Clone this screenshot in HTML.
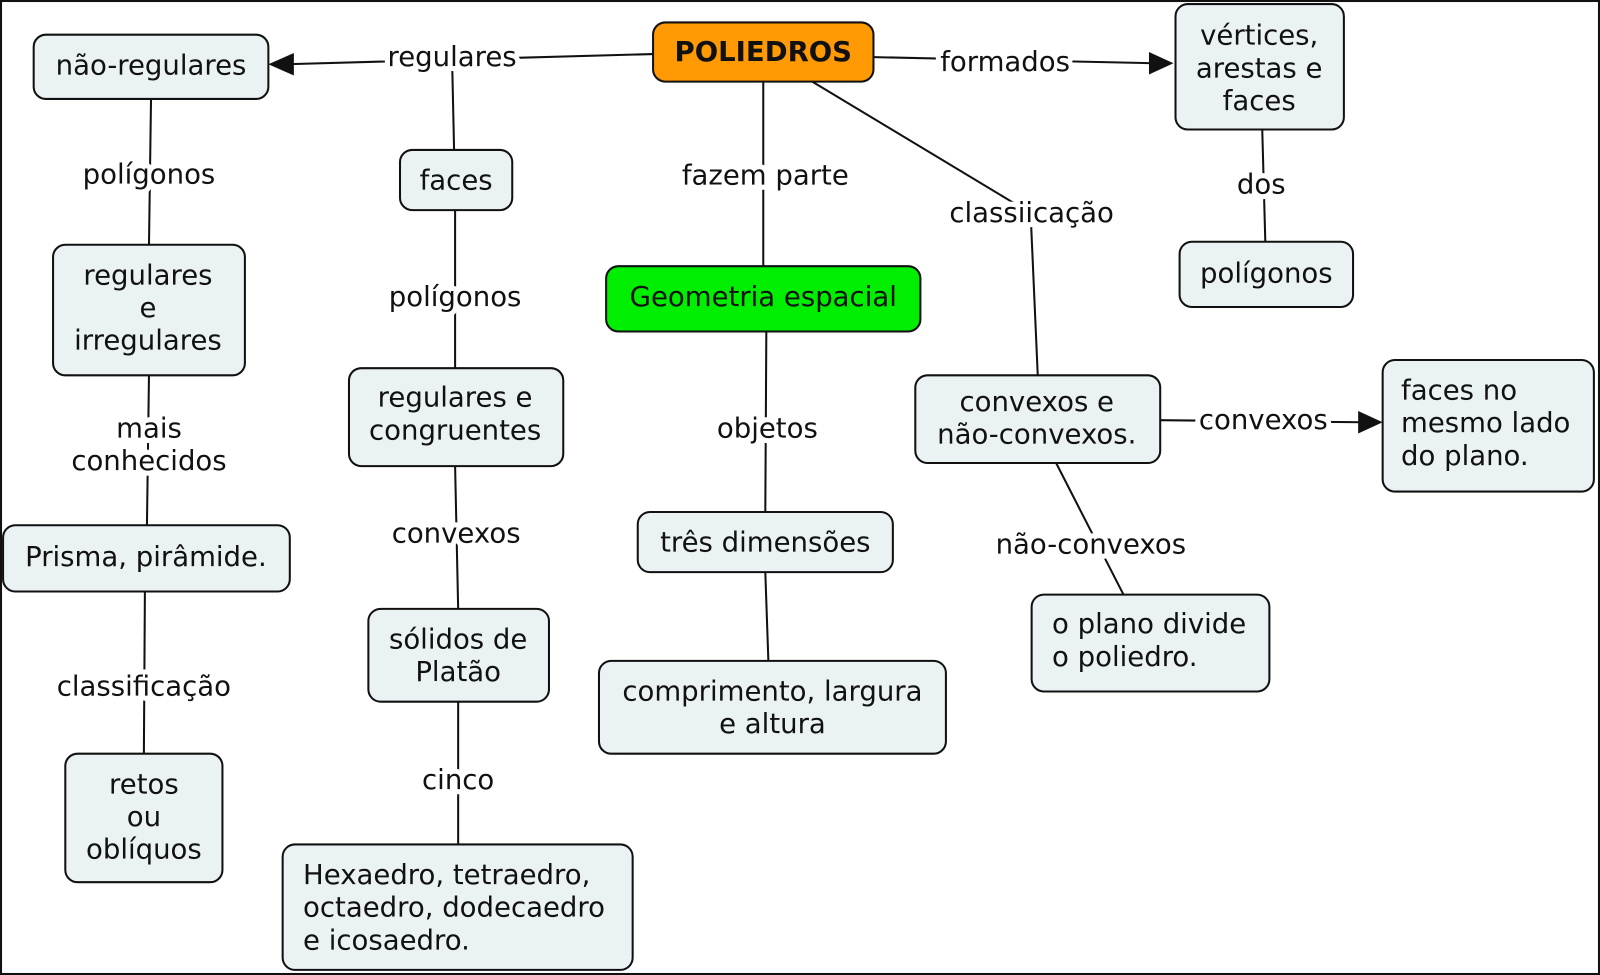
<!DOCTYPE html>
<html><head><meta charset="utf-8"><style>
html,body{margin:0;padding:0;background:#fff;}
svg{display:block;}
text{font-family:"DejaVu Sans","Liberation Sans",sans-serif;font-size:27px;fill:#111;}
.n rect{fill:#ebf2f4;stroke:#111;stroke-width:2;}
.l{stroke:#fff;stroke-width:10;paint-order:stroke;stroke-linejoin:round;}
line{stroke:#111;stroke-width:2;}
</style></head><body>
<svg width="1600" height="975" viewBox="0 0 1568 956" preserveAspectRatio="none" xmlns="http://www.w3.org/2000/svg">
<rect x="1" y="1" width="1566" height="954" fill="#fff" stroke="#111" stroke-width="2"/>
<!-- lines -->
<line x1="640" y1="53" x2="280" y2="63"/>
<polygon points="263,63 288,52 288,74" fill="#111"/>
<line x1="443" y1="56" x2="445" y2="147"/>
<line x1="856" y1="56" x2="1130" y2="62"/>
<polygon points="1150,62 1126,51 1126,73" fill="#111"/>
<line x1="748" y1="80" x2="748" y2="261"/>
<line x1="796" y1="80" x2="1010" y2="209"/>
<line x1="1010" y1="209" x2="1017" y2="368"/>
<line x1="1237" y1="127" x2="1240" y2="237"/>
<line x1="148" y1="97" x2="146" y2="240"/>
<line x1="146" y1="368" x2="144" y2="515"/>
<line x1="142" y1="580" x2="141" y2="739"/>
<line x1="446" y1="206" x2="446" y2="361"/>
<line x1="446" y1="457" x2="449" y2="597"/>
<line x1="449" y1="688" x2="449" y2="828"/>
<line x1="751" y1="325" x2="750" y2="502"/>
<line x1="750" y1="561" x2="753" y2="648"/>
<line x1="1137" y1="412" x2="1335" y2="414"/>
<polygon points="1355,414 1331,403 1331,425" fill="#111"/>
<line x1="1035" y1="454" x2="1101" y2="583"/>
<!-- link labels -->
<g text-anchor="middle" dominant-baseline="central">
<text class="l" x="443" y="56">regulares</text>
<text class="l" x="985" y="61">formados</text>
<text class="l" x="750" y="172">fazem parte</text>
<text class="l" x="1011" y="209">classiicação</text>
<text class="l" x="1236" y="181">dos</text>
<text class="l" x="146" y="171">polígonos</text>
<text class="l" x="146" y="420">mais</text>
<text class="l" x="146" y="452">conhecidos</text>
<text class="l" x="141" y="673">classificação</text>
<text class="l" x="446" y="291">polígonos</text>
<text class="l" x="447" y="523">convexos</text>
<text class="l" x="449" y="765">cinco</text>
<text class="l" x="752" y="420">objetos</text>
<text class="l" x="1238" y="412">convexos</text>
<text class="l" x="1069" y="534">não-convexos</text>
</g>
<!-- nodes -->
<g class="n" text-anchor="middle" dominant-baseline="central">
<rect x="640" y="22" width="216" height="58" rx="12" style="fill:#ff9a05"/>
<text x="748" y="51" font-weight="bold">POLIEDROS</text>
<rect x="33" y="34" width="230" height="63" rx="12"/>
<text x="148" y="64">não-regulares</text>
<rect x="1152" y="4" width="165" height="123" rx="12"/>
<text x="1234" y="35">vértices,</text><text x="1234" y="67">arestas e</text><text x="1234" y="99">faces</text>
<rect x="392" y="147" width="110" height="59" rx="12"/>
<text x="447" y="177">faces</text>
<rect x="594" y="261" width="308" height="64" rx="12" style="fill:#00ee00"/>
<text x="748" y="291">Geometria espacial</text>
<rect x="1156" y="237" width="170" height="64" rx="12"/>
<text x="1241" y="268">polígonos</text>
<rect x="52" y="240" width="188" height="128" rx="12"/>
<text x="145" y="270">regulares</text><text x="145" y="302">e</text><text x="145" y="334">irregulares</text>
<rect x="342" y="361" width="210" height="96" rx="12"/>
<text x="446" y="390">regulares e</text><text x="446" y="422">congruentes</text>
<rect x="897" y="368" width="240" height="86" rx="12"/>
<text x="1016" y="394">convexos e</text><text x="1016" y="426">não-convexos.</text>
<rect x="1355" y="353" width="207" height="129" rx="12"/>
<rect x="625" y="502" width="250" height="59" rx="12"/>
<text x="750" y="532">três dimensões</text>
<rect x="3" y="515" width="281" height="65" rx="12"/>
<text x="143" y="546">Prisma, pirâmide.</text>
<rect x="361" y="597" width="177" height="91" rx="12"/>
<text x="449" y="627">sólidos de</text><text x="449" y="659">Platão</text>
<rect x="1011" y="583" width="233" height="95" rx="12"/>
<rect x="587" y="648" width="340" height="91" rx="12"/>
<text x="757" y="678">comprimento, largura</text><text x="757" y="710">e altura</text>
<rect x="64" y="739" width="154" height="126" rx="12"/>
<text x="141" y="769">retos</text><text x="141" y="801">ou</text><text x="141" y="833">oblíquos</text>
<rect x="277" y="828" width="343" height="123" rx="12"/>
</g>
<g dominant-baseline="central">
<text x="1373" y="383">faces no</text><text x="1373" y="415">mesmo lado</text><text x="1373" y="447">do plano.</text>
<text x="1031" y="612">o plano divide</text><text x="1031" y="644">o poliedro.</text>
<text x="297" y="858">Hexaedro, tetraedro,</text><text x="297" y="890">octaedro, dodecaedro</text><text x="297" y="922">e icosaedro.</text>
</g>
</svg>
</body></html>
